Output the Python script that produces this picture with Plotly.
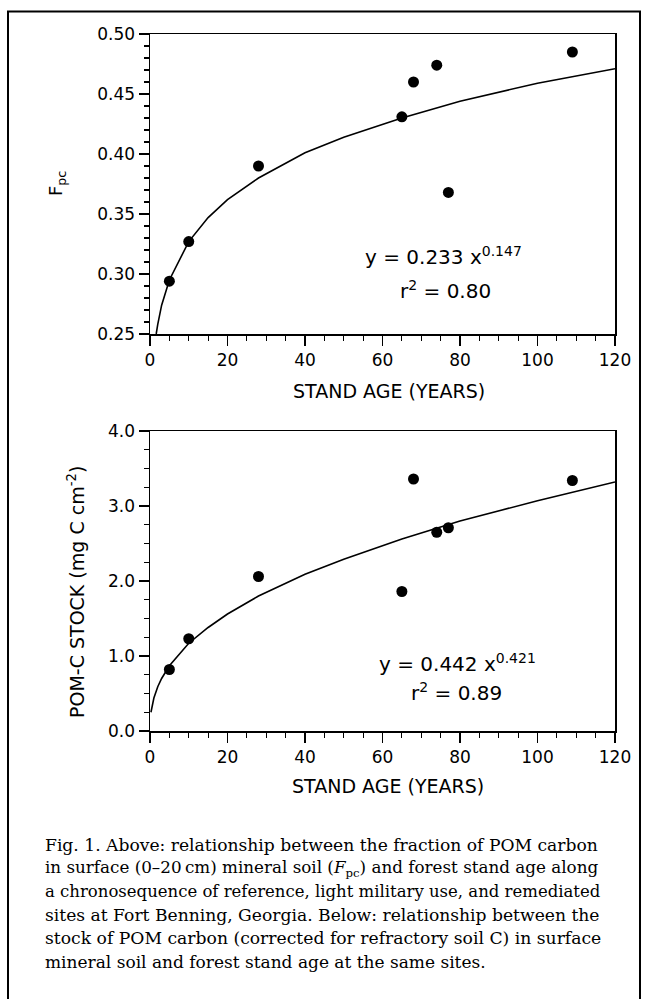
import plotly.graph_objects as go

W, H = 647, 999

# ---- data ----
age = [5, 10, 28, 65, 68, 74, 77, 109]
fpc = [0.294, 0.327, 0.390, 0.431, 0.460, 0.474, 0.368, 0.485]
pom_c = [0.82, 1.23, 2.06, 1.86, 3.36, 2.65, 2.71, 3.34]

fit_age_top = [1.6, 2, 3, 5, 10, 15, 20, 28, 40, 50, 65, 80, 100, 120]
fit_fpc = [0.250, 0.258, 0.274, 0.295, 0.327, 0.347, 0.362, 0.380, 0.401,
           0.414, 0.430, 0.444, 0.459, 0.471]
fit_age_bot = [0.25, 0.5, 1, 2, 3, 5, 10, 15, 20, 28, 40, 50, 65, 80, 100, 120]
fit_pom = [0.25, 0.33, 0.44, 0.59, 0.70, 0.87, 1.17, 1.38, 1.56, 1.80, 2.09,
           2.29, 2.56, 2.80, 3.07, 3.32]

x_title = "STAND AGE (YEARS)"
y_title_top = "F<sub>pc</sub>"
y_title_bot = "POM-C STOCK (mg C cm<sup>-2</sup>)"
eq_top = ["y = 0.233 x<sup>0.147</sup>", "r<sup>2</sup> = 0.80"]
eq_bot = ["y = 0.442 x<sup>0.421</sup>", "r<sup>2</sup> = 0.89"]
caption = [
    "Fig. 1. Above: relationship between the fraction of POM carbon",
    "in surface (0–20\u2009cm) mineral soil (<i>F</i><sub>pc</sub>) and forest stand age along",
    "a chronosequence of reference, light military use, and remediated",
    "sites at Fort Benning, Georgia. Below: relationship between the",
    "stock of POM carbon (corrected for refractory soil C) in surface",
    "mineral soil and forest stand age at the same sites.",
]
caption_sizes = [17.15, 16.75, 16.5, 17.15, 17.2, 17.0]


def px(x):
    return x / W


def py(y):
    return 1 - y / H


SANS = "DejaVu Sans"
SERIF = "DejaVu Serif"

fig = go.Figure()
fig.add_trace(go.Scatter(x=fit_age_top, y=fit_fpc, mode="lines",
                         line=dict(color="black", width=1.6),
                         xaxis="x", yaxis="y", showlegend=False))
fig.add_trace(go.Scatter(x=age, y=fpc, mode="markers",
                         marker=dict(color="black", size=11),
                         xaxis="x", yaxis="y", showlegend=False))
fig.add_trace(go.Scatter(x=fit_age_bot, y=fit_pom, mode="lines",
                         line=dict(color="black", width=1.6),
                         xaxis="x2", yaxis="y2", showlegend=False))
fig.add_trace(go.Scatter(x=age, y=pom_c, mode="markers",
                         marker=dict(color="black", size=11),
                         xaxis="x2", yaxis="y2", showlegend=False))

tickfont = dict(family=SANS, size=17, color="black")


def xax(anchor):
    return dict(domain=[px(150), px(615)], anchor=anchor, range=[0, 120],
                tick0=0, dtick=20, ticks="outside", ticklen=10, tickwidth=1.3,
                tickcolor="black", showline=True, linecolor="black",
                linewidth=1.5, mirror=True, showgrid=False, zeroline=False,
                tickfont=tickfont, automargin=False, fixedrange=True,
                minor=dict(dtick=5, ticks="outside", ticklen=5, tickwidth=1.2,
                           tickcolor="black", showgrid=False))


def yax(anchor, dom, rng, dtick, mdtick, fmt):
    return dict(domain=dom, anchor=anchor, range=rng, tick0=0, dtick=dtick,
                tickformat=fmt, ticks="outside", ticklen=10, tickwidth=1.3,
                tickcolor="black", showline=True, linecolor="black",
                linewidth=1.5, mirror=True, showgrid=False, zeroline=False,
                tickfont=tickfont, automargin=False, fixedrange=True,
                minor=dict(dtick=mdtick, ticks="outside", ticklen=5,
                           tickwidth=1.2, tickcolor="black", showgrid=False))


annotations = []


def ann(text, x, y, size, family=SANS, angle=0, xanchor="center"):
    annotations.append(dict(text=text, x=px(x), y=py(y), xref="paper",
                            yref="paper", showarrow=False, textangle=angle,
                            xanchor=xanchor, yanchor="middle",
                            font=dict(family=family, size=size, color="black")))


ann(x_title, 389, 391, 19)
ann(x_title, 388, 786, 19)
ann(y_title_top, 57, 184, 18, angle=-90)
ann(y_title_bot, 76, 592, 19, angle=-90)
ann(eq_top[0], 443, 256, 20)
ann(eq_top[1], 445, 290, 20)
ann(eq_bot[0], 457, 663, 20)
ann(eq_bot[1], 456, 692, 20)

cap_y = [845, 868, 891, 915, 938, 962]
for t, yy, s in zip(caption, cap_y, caption_sizes):
    ann(t, 43, yy, s, family=SERIF, xanchor="left")

fig.update_layout(
    width=W, height=H, autosize=False,
    margin=dict(l=0, r=0, t=0, b=0),
    paper_bgcolor="white", plot_bgcolor="white",
    xaxis=xax("y"),
    yaxis=yax("x", [py(334), py(34)], [0.25, 0.50], 0.05, 0.01, ".2f"),
    xaxis2=xax("y2"),
    yaxis2=yax("x2", [py(731), py(431)], [0, 4], 1, 0.25, ".1f"),
    annotations=annotations,
    shapes=[dict(type="rect", xref="paper", yref="paper",
                 x0=px(8), x1=px(640), y0=-0.05, y1=py(11.5),
                 line=dict(color="black", width=2))],
    showlegend=False,
)

fig.write_html(
    "out.html",
    config={"displayModeBar": False, "staticPlot": True},
    post_script="document.body.style.margin='0';document.body.style.overflow='hidden';",
)
